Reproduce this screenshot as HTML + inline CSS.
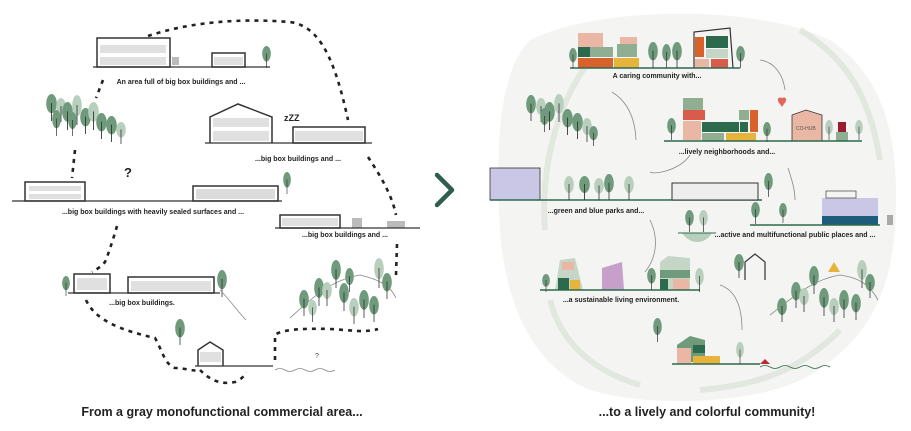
<!DOCTYPE html>
<html><head><meta charset="utf-8"><style>
html,body{margin:0;padding:0;background:#fff;}
svg{display:block;font-family:"Liberation Sans",sans-serif;}
.t{font-size:7px;font-weight:bold;fill:#222;text-anchor:middle;}
.cap{font-size:12.5px;font-weight:bold;fill:#222;text-anchor:middle;}
.b{fill:#fff;stroke:#333;stroke-width:1.5;}
.g{fill:#e0e0e0;}
.d{fill:none;stroke:#222;stroke-width:2.6;stroke-dasharray:4 5;}
.l{fill:none;stroke:#333;stroke-width:1.2;}
.a{fill:none;stroke:#888;stroke-width:0.8;}
</style></head><body>
<svg width="911" height="431" viewBox="0 0 911 431" xmlns="http://www.w3.org/2000/svg">
<defs>
<symbol id="tr" viewBox="0 0 10 24" preserveAspectRatio="none"><ellipse cx="5" cy="8.5" rx="4.8" ry="8.5" fill="#6f9a7c"/><line x1="5" y1="8" x2="5" y2="24" stroke="#333" stroke-width="0.8"/></symbol>
<symbol id="tl" viewBox="0 0 10 24" preserveAspectRatio="none"><ellipse cx="5" cy="8.5" rx="4.8" ry="8.5" fill="#b9cfbe"/><line x1="5" y1="8" x2="5" y2="24" stroke="#333" stroke-width="0.8"/></symbol>
</defs>

<!-- LEFT dashed loop -->
<path class="d" d="M148,36 C190,22 240,18 290,22 C320,26 335,60 348,120"/>
<path class="d" d="M368,157 C380,175 392,195 396,215"/>
<path class="d" d="M397,244 L396,275"/>
<path class="d" d="M103,80 L96,98"/>
<path class="d" d="M75,150 L72,178"/>
<path class="d" d="M117,226 C113,240 108,255 105,262 C100,268 95,270 92,272"/>
<path class="d" d="M86,300 C95,320 120,330 155,338 C162,350 165,365 175,368 C185,368 195,372 200,370"/>
<path class="d" d="M200,370 C210,380 220,385 235,382 C240,380 245,376 246,372"/>
<path class="d" d="M275,360 L275,335 C280,330 300,328 330,329 C350,330 365,333 378,329"/>

<!-- top left group -->
<rect x="97" y="38" width="73" height="29" class="b"/>
<rect x="100" y="45" width="66" height="8" class="g"/><rect x="100" y="57" width="66" height="8" class="g"/>
<rect x="212" y="53" width="33" height="14" class="b"/><rect x="214" y="57" width="29" height="8" class="g"/>
<line x1="93" y1="67" x2="270" y2="67" class="l"/>
<rect x="172" y="57" width="7" height="8" fill="#bbb"/>
<use href="#tr" x="262" y="46" width="9" height="22"/>
<text class="t" x="181" y="84">An area full of big box buildings and ...</text>

<!-- trees left -->
<g>
<use href="#tr" x="46" y="94" width="11" height="27"/><use href="#tl" x="56" y="98" width="10" height="24"/>
<use href="#tr" x="62" y="102" width="11" height="28"/><use href="#tl" x="72" y="95" width="10" height="30"/>
<use href="#tr" x="80" y="108" width="11" height="26"/><use href="#tl" x="88" y="102" width="11" height="28"/>
<use href="#tr" x="96" y="113" width="11" height="26"/><use href="#tr" x="106" y="116" width="11" height="26"/>
<use href="#tl" x="116" y="122" width="10" height="22"/><use href="#tr" x="52" y="110" width="9" height="26"/>
<use href="#tr" x="68" y="112" width="9" height="24"/>
</g>

<!-- house + box -->
<path d="M210,143 L210,117 L238,104 L272,117 L272,143" class="b"/>
<rect x="213" y="118" width="56" height="9" class="g"/><rect x="213" y="131" width="56" height="10" class="g"/>
<rect x="293" y="127" width="72" height="16" class="b"/><rect x="295" y="131" width="68" height="10" class="g"/>
<line x1="205" y1="143" x2="372" y2="143" class="l"/>
<text x="284" y="121" font-size="9" font-weight="bold" fill="#222">zZZ</text>
<text class="t" x="298" y="161">...big box buildings and ...</text>

<!-- third -->
<rect x="25" y="182" width="60" height="19" class="b"/>
<rect x="29" y="186" width="52" height="5" class="g"/><rect x="29" y="194" width="52" height="5" class="g"/>
<rect x="193" y="186" width="85" height="15" class="b"/><rect x="196" y="189" width="79" height="10" fill="#dcdcdc"/>
<line x1="12" y1="201" x2="282" y2="201" class="l"/>
<text x="124" y="177" font-size="13" font-weight="bold" fill="#222">?</text>
<use href="#tr" x="283" y="172" width="8" height="22"/>
<text class="t" x="153" y="214">...big box buildings with heavily sealed surfaces and ...</text>

<!-- fourth -->
<rect x="280" y="215" width="60" height="13" class="b"/><rect x="282" y="218" width="56" height="8" class="g"/>
<rect x="352" y="218" width="10" height="10" fill="#bbb"/><rect x="387" y="221" width="18" height="7" fill="#bbb"/>
<line x1="275" y1="228" x2="420" y2="228" class="l"/>
<text class="t" x="345" y="237">...big box buildings and ...</text>

<!-- fifth -->
<rect x="74" y="274" width="36" height="19" class="b"/><rect x="77" y="278" width="30" height="12" class="g"/>
<rect x="128" y="277" width="86" height="16" class="b"/><rect x="131" y="281" width="80" height="10" class="g"/>
<line x1="68" y1="293" x2="220" y2="293" class="l"/>
<use href="#tr" x="62" y="276" width="8" height="20"/><use href="#tr" x="217" y="270" width="10" height="27"/>
<path d="M220,290 C230,300 238,312 246,320" class="a"/>
<text class="t" x="142" y="305">...big box buildings.</text>

<!-- bottom -->
<use href="#tr" x="175" y="319" width="10" height="26"/>
<path d="M198,366 L198,350 L210,342 L223,350 L223,366" class="b"/>
<rect x="200" y="352" width="21" height="10" class="g"/>
<line x1="195" y1="366" x2="273" y2="366" class="l"/>
<path d="M275,370 q5,-3 10,0 t10,0 t10,0 t10,0 t10,0 t10,0" class="a"/>
<text x="315" y="358" font-size="7" fill="#444">?</text>

<!-- hill left -->
<path d="M290,318 C310,300 330,280 360,275 C380,280 390,285 396,298" class="a"/>
<g>
<use href="#tr" x="299" y="290" width="10" height="26"/><use href="#tr" x="314" y="278" width="10" height="28"/>
<use href="#tl" x="322" y="282" width="10" height="24"/><use href="#tr" x="331" y="260" width="10" height="28"/>
<use href="#tr" x="339" y="283" width="10" height="28"/><use href="#tl" x="349" y="298" width="10" height="26"/>
<use href="#tr" x="359" y="290" width="10" height="28"/><use href="#tr" x="369" y="296" width="10" height="26"/>
<use href="#tl" x="374" y="258" width="10" height="30"/><use href="#tr" x="382" y="273" width="10" height="26"/>
<use href="#tr" x="345" y="268" width="9" height="24"/><use href="#tl" x="308" y="300" width="9" height="22"/>
</g>

<!-- chevron -->
<polyline points="437,175 452,190 437,205" fill="none" stroke="#2f5d4e" stroke-width="4.5" stroke-linecap="round" stroke-linejoin="round"/>

<!-- RIGHT background -->
<path d="M530,40 C600,5 760,5 830,40 C890,80 900,150 895,230 C890,290 870,340 810,375 C760,405 650,408 590,390 C530,365 505,300 500,230 C495,140 500,70 530,40 Z" fill="#f4f5f2"/>
<path d="M590,60 C560,100 540,160 545,230 M800,30 C850,60 870,100 880,160 M550,300 C560,340 590,370 640,385 M700,390 C760,385 800,370 840,330" fill="none" stroke="#e2e8df" stroke-width="6"/>

<!-- top right group -->
<rect x="578" y="33" width="25" height="14" fill="#e9b7a3"/>
<rect x="578" y="47" width="12" height="10" fill="#2c6a4d"/><rect x="590" y="47" width="23" height="10" fill="#8fae92"/>
<rect x="578" y="58" width="35" height="10" fill="#d9622c"/><rect x="614" y="58" width="25" height="10" fill="#e6b33c"/>
<rect x="617" y="44" width="20" height="13" fill="#8fae92"/><rect x="620" y="37" width="17" height="7" fill="#e9b7a3"/>
<rect x="695" y="37" width="9" height="20" fill="#d9622c"/><rect x="706" y="36" width="22" height="12" fill="#2c6a4d"/>
<rect x="706" y="49" width="22" height="9" fill="#c5d6c6"/><rect x="695" y="59" width="14" height="9" fill="#e9b7a3"/>
<rect x="711" y="59" width="17" height="9" fill="#d95c4a"/>
<path d="M694,68 L694,32 L730,28 L733,68" class="l"/>
<line x1="570" y1="68" x2="740" y2="68" stroke="#2c6a4d" stroke-width="1.4"/>
<use href="#tr" x="569" y="48" width="8" height="20"/><use href="#tr" x="648" y="42" width="10" height="26"/>
<use href="#tr" x="662" y="44" width="9" height="24"/><use href="#tr" x="672" y="42" width="10" height="26"/>
<use href="#tr" x="736" y="46" width="9" height="22"/>
<text class="t" x="657" y="78">A caring community with...</text>

<!-- arrows right -->
<path d="M760,60 C775,62 783,75 785,90" class="a"/>
<path d="M612,92 C625,100 635,115 636,140" class="a"/>
<path d="M690,155 C680,170 655,175 650,172" class="a"/>
<path d="M788,168 C792,180 795,190 795,200" class="a"/>
<path d="M650,220 C660,240 655,260 645,272" class="a"/>
<path d="M720,285 C735,290 742,305 742,330" class="a"/>

<!-- lively neighborhoods -->
<rect x="683" y="98" width="20" height="12" fill="#8fae92"/><rect x="683" y="110" width="22" height="10" fill="#d95c4a"/>
<rect x="683" y="121" width="18" height="19" fill="#e9b7a3"/><rect x="702" y="122" width="37" height="10" fill="#2c6a4d"/>
<rect x="740" y="122" width="8" height="10" fill="#2c6a4d"/><rect x="702" y="133" width="22" height="8" fill="#8fae92"/>
<rect x="726" y="133" width="30" height="8" fill="#e6b33c"/><rect x="739" y="110" width="10" height="10" fill="#8fae92"/>
<rect x="750" y="110" width="8" height="22" fill="#d9622c"/>
<path d="M792,141 L792,115 L806,110 L822,115 L822,141 Z" fill="#e9b7a3" stroke="#333" stroke-width="0.8"/>
<text x="796" y="130" font-size="5" fill="#555">CO-HUB</text>
<rect x="838" y="122" width="8" height="10" fill="#9b1c2e"/><rect x="836" y="132" width="12" height="9" fill="#8fae92"/>
<line x1="664" y1="141" x2="862" y2="141" stroke="#2c6a4d" stroke-width="1.4"/>
<path d="M780,104 c-4,-4 -2,-8 2,-6 c4,-2 6,2 2,6 l-2,3 z" fill="#e06a5a"/>
<use href="#tr" x="667" y="118" width="9" height="22"/><use href="#tr" x="763" y="122" width="8" height="20"/>
<use href="#tl" x="825" y="120" width="8" height="20"/><use href="#tl" x="855" y="120" width="8" height="20"/>
<text class="t" x="727" y="154">...lively neighborhoods and...</text>

<!-- trees right-left -->
<g>
<use href="#tr" x="526" y="95" width="10" height="26"/><use href="#tl" x="536" y="98" width="10" height="24"/>
<use href="#tr" x="544" y="102" width="11" height="28"/><use href="#tl" x="554" y="94" width="10" height="28"/>
<use href="#tr" x="562" y="109" width="11" height="26"/><use href="#tr" x="572" y="113" width="11" height="26"/>
<use href="#tl" x="582" y="118" width="10" height="24"/><use href="#tr" x="589" y="126" width="9" height="20"/>
<use href="#tr" x="540" y="108" width="9" height="24"/>
</g>

<!-- green and blue parks -->
<rect x="490" y="168" width="50" height="32" fill="#c9c6e6" stroke="#333" stroke-width="0.8"/>
<line x1="490" y1="200" x2="762" y2="200" stroke="#2c6a4d" stroke-width="1.4"/>
<use href="#tl" x="564" y="176" width="10" height="24"/><use href="#tr" x="579" y="176" width="11" height="24"/>
<use href="#tl" x="594" y="178" width="10" height="22"/><use href="#tr" x="604" y="174" width="10" height="26"/>
<use href="#tl" x="624" y="176" width="10" height="24"/>
<rect x="672" y="183" width="86" height="17" fill="#eee" stroke="#333" stroke-width="1"/>
<use href="#tr" x="764" y="173" width="9" height="24"/>
<text class="t" x="596" y="213">...green and blue parks and...</text>

<!-- active public places -->
<rect x="822" y="198" width="56" height="10" fill="#c9c6e6"/><rect x="822" y="208" width="56" height="8" fill="#c9c6e6"/>
<rect x="822" y="216" width="56" height="9" fill="#1d5d7a"/>
<rect x="826" y="191" width="30" height="7" fill="none" stroke="#555" stroke-width="0.8"/>
<rect x="887" y="215" width="6" height="10" fill="#aaa"/>
<line x1="750" y1="225" x2="880" y2="225" stroke="#2c6a4d" stroke-width="1.4"/>
<use href="#tr" x="751" y="202" width="9" height="22"/><use href="#tr" x="779" y="203" width="8" height="20"/>
<use href="#tr" x="685" y="210" width="9" height="22"/><use href="#tl" x="699" y="210" width="9" height="22"/>
<path d="M682,233 C690,245 705,245 712,233" fill="#b9cfbe"/>
<line x1="678" y1="233" x2="716" y2="233" stroke="#2c6a4d" stroke-width="1"/>
<text class="t" x="795" y="237">...active and multifunctional public places and ...</text>

<!-- sustainable -->
<path d="M555,290 L560,260 L575,258 L583,290 Z" fill="#c5d6c6"/>
<rect x="558" y="278" width="11" height="12" fill="#2c6a4d"/><rect x="570" y="280" width="10" height="10" fill="#e6b33c"/>
<rect x="562" y="262" width="12" height="8" fill="#e9b7a3"/>
<path d="M602,290 L602,268 L622,262 L624,290 Z" fill="#c7a0c9"/>
<path d="M660,290 L660,262 L668,256 L690,258 L690,290 Z" fill="#c5d6c6"/>
<rect x="660" y="270" width="30" height="8" fill="#6f9a7c"/><rect x="660" y="279" width="8" height="11" fill="#2c6a4d"/>
<rect x="673" y="279" width="16" height="11" fill="#e9b7a3"/>
<line x1="540" y1="290" x2="700" y2="290" stroke="#2c6a4d" stroke-width="1.4"/>
<use href="#tr" x="542" y="274" width="8" height="18"/><use href="#tr" x="647" y="268" width="9" height="22"/>
<use href="#tl" x="695" y="268" width="9" height="24"/>
<text class="t" x="621" y="302">...a sustainable living environment.</text>

<!-- hill right -->
<path d="M770,315 C790,300 810,280 840,275 C860,278 870,285 878,300" class="a"/>
<path d="M828,272 L834,262 L840,272 Z" fill="#e6b33c"/>
<g>
<use href="#tr" x="777" y="298" width="10" height="24"/><use href="#tr" x="791" y="282" width="10" height="26"/>
<use href="#tl" x="799" y="288" width="10" height="24"/><use href="#tr" x="809" y="266" width="10" height="28"/>
<use href="#tr" x="819" y="288" width="10" height="28"/><use href="#tl" x="829" y="298" width="10" height="24"/>
<use href="#tr" x="839" y="290" width="10" height="28"/><use href="#tr" x="851" y="294" width="10" height="26"/>
<use href="#tl" x="857" y="260" width="10" height="28"/><use href="#tr" x="865" y="274" width="10" height="24"/>
</g>
<use href="#tr" x="734" y="254" width="10" height="24"/><path d="M745,280 L745,262 L755,254 L765,262 L765,280" class="l"/>

<!-- bottom right -->
<path d="M677,362 L677,345 L690,336 L705,340 L705,362 Z" fill="#6f9a7c"/>
<rect x="677" y="348" width="14" height="16" fill="#e9b7a3"/><rect x="693" y="345" width="12" height="8" fill="#2c6a4d"/>
<rect x="693" y="356" width="27" height="8" fill="#e6b33c"/>
<line x1="672" y1="364" x2="760" y2="364" stroke="#2c6a4d" stroke-width="1.4"/>
<path d="M760,367 q5,-3 10,0 t10,0 t10,0 t10,0 t10,0 t10,0 t10,0" fill="none" stroke="#2c6a4d" stroke-width="0.8"/>
<path d="M760,364 l5,-5 l5,5 z" fill="#c4272e"/>
<use href="#tr" x="653" y="318" width="9" height="24"/><use href="#tl" x="736" y="342" width="8" height="22"/>

<!-- captions -->
<text class="cap" x="222" y="416">From a gray monofunctional commercial area...</text>
<text class="cap" x="707" y="416">...to a lively and colorful community!</text>
</svg>
</body></html>
